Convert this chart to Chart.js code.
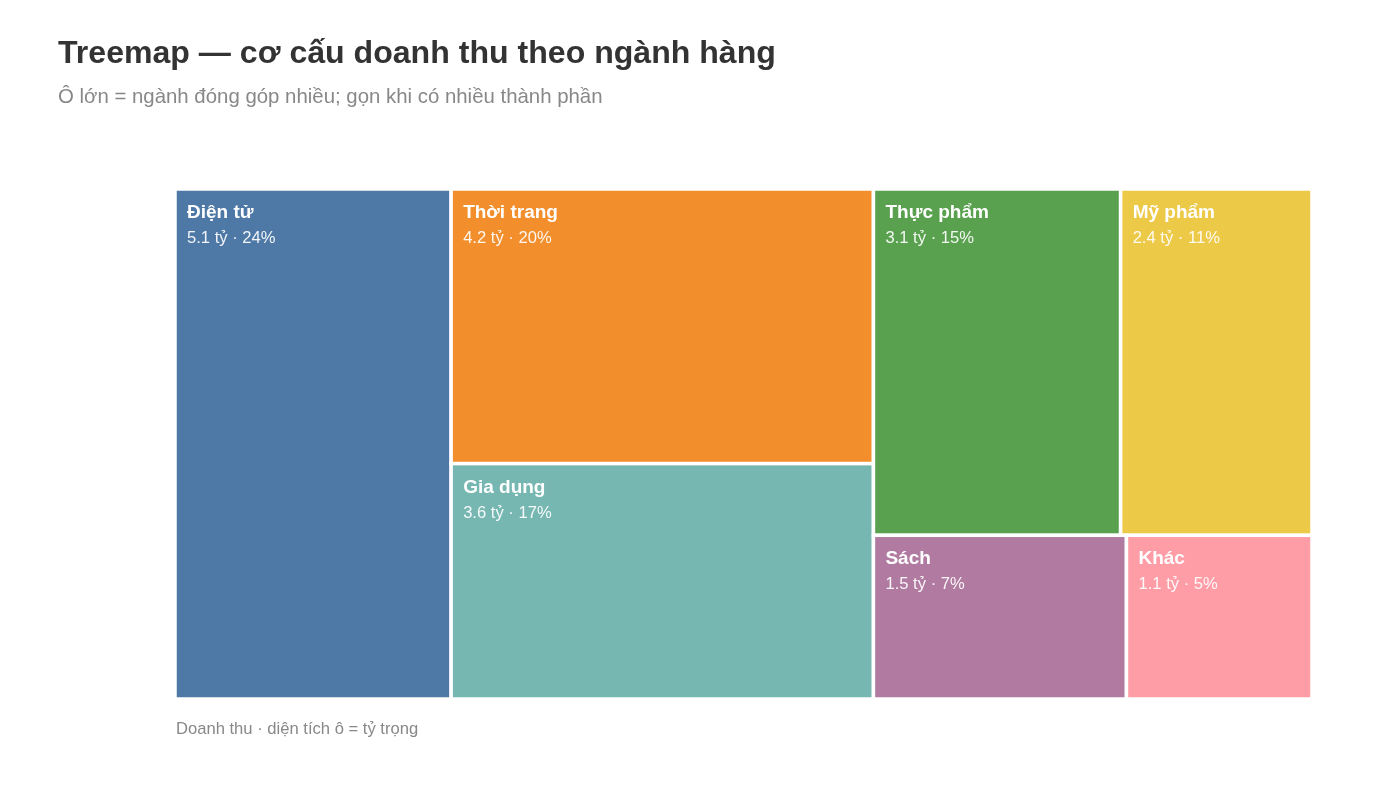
<!DOCTYPE html>
<html lang="vi">
<head>
<meta charset="utf-8">
<title>Treemap — cơ cấu doanh thu theo ngành hàng</title>
<script src="https://cdn.jsdelivr.net/npm/chart.js@4.4.1/dist/chart.umd.min.js"></script>
<style>
  html, body { margin: 0; padding: 0; background: #fff; }
  body { font-family: "Liberation Sans", Arial, sans-serif; }
  #wrap { position: relative; width: 1400px; height: 787px; }
  #chart { position: absolute; left: 0; top: 0; }
  .title { position: absolute; left: 58px; top: 34px; font-size: 32.1px; font-weight: bold; color: #333; white-space: nowrap; }
  .subtitle { position: absolute; left: 58px; top: 85px; font-size: 20.4px; color: #888; white-space: nowrap; }
  .note { position: absolute; left: 176px; top: 719px; font-size: 16.6px; color: #888; white-space: nowrap; }
</style>
</head>
<body>
<div id="wrap">
  <canvas id="chart" width="1400" height="787"></canvas>
  <div class="title">Treemap — cơ cấu doanh thu theo ngành hàng</div>
  <div class="subtitle">Ô lớn = ngành đóng góp nhiều; gọn khi có nhiều thành phần</div>
  <div class="note">Doanh thu · diện tích ô = tỷ trọng</div>
</div>
<script>
// revenue by category, in billion VND (tỷ)
const categories = ['Điện tử', 'Thời trang', 'Gia dụng', 'Thực phẩm', 'Mỹ phẩm', 'Sách', 'Khác'];
const revenue = [5.1, 4.2, 3.6, 3.1, 2.4, 1.5, 1.1];
const colors = ['#4e79a7', '#f28e2b', '#76b7b2', '#59a14f', '#edc948', '#b07aa1', '#ff9da7'];

// worst aspect ratio of a row of areas laid along a side
function worst(row, side) {
    const s = row.reduce((a, b) => a + b, 0);
    let w = 0;
    row.forEach(r => {
        w = Math.max(w, (side * side * r) / (s * s), (s * s) / (side * side * r));
    });
    return w;
}

// squarified treemap, returns rects in the same units as w/h
function squarify(values, w, h) {
    const total = values.reduce((a, b) => a + b, 0);
    const areas = values.map(v => v / total * w * h);
    const rects = [];
    let x = 0, y = 0, i = 0;
    while (i < areas.length) {
        const side = Math.min(w, h);
        let row = [areas[i]];
        let j = i + 1;
        while (j < areas.length && worst(row.concat(areas[j]), side) <= worst(row, side)) {
            row.push(areas[j]);
            j++;
        }
        const s = row.reduce((a, b) => a + b, 0);
        if (w >= h) {
            // column on the left
            const cw = s / h;
            let cy = y;
            row.forEach(r => { rects.push({ x: x, y: cy, w: cw, h: r / cw }); cy += r / cw; });
            x += cw; w -= cw;
        } else {
            // row across the top
            const rh = s / w;
            let cx = x;
            row.forEach(r => { rects.push({ x: cx, y: y, w: r / rh, h: rh }); cx += r / rh; });
            y += rh; h -= rh;
        }
        i = j;
    }
    return rects;
}

const treemapPlugin = {
    id: 'treemap',
    afterDatasetsDraw(chart) {
        const { ctx, chartArea, scales } = chart;
        const W = chartArea.width, H = chartArea.height;
        const total = revenue.reduce((a, b) => a + b, 0);
        const rects = squarify(revenue, W, H);
        ctx.save();
        rects.forEach((r, k) => {
            // back to 0..1 scale units, then through the scales
            const x0 = scales.x.getPixelForValue(r.x / W);
            const x1 = scales.x.getPixelForValue((r.x + r.w) / W);
            const y0 = scales.y.getPixelForValue(r.y / H);
            const y1 = scales.y.getPixelForValue((r.y + r.h) / H);
            ctx.fillStyle = colors[k];
            ctx.fillRect(x0, y0, x1 - x0, y1 - y0);
            ctx.strokeStyle = '#ffffff';
            ctx.lineWidth = 3.5;
            ctx.strokeRect(x0, y0, x1 - x0, y1 - y0);

            const pct = Math.round(revenue[k] / total * 100);
            ctx.fillStyle = '#ffffff';
            ctx.textBaseline = 'alphabetic';
            ctx.textAlign = 'left';
            ctx.font = 'bold 19px "Liberation Sans", Arial, sans-serif';
            ctx.fillText(categories[k], x0 + 12, y0 + 29);
            ctx.fillStyle = 'rgba(255,255,255,0.92)';
            ctx.font = '16.6px "Liberation Sans", Arial, sans-serif';
            ctx.fillText(revenue[k].toFixed(1) + ' tỷ · ' + pct + '%', x0 + 12, y0 + 54);
        });
        ctx.restore();
    }
};

new Chart(document.getElementById('chart').getContext('2d'), {
    type: 'scatter',
    data: { datasets: [{ data: [], label: 'Doanh thu' }] },
    options: {
        responsive: false,
        animation: false,
        layout: { padding: { left: 175, right: 88, top: 189, bottom: 88 } },
        scales: {
            x: { type: 'linear', min: 0, max: 1, display: false },
            y: { type: 'linear', min: 0, max: 1, reverse: true, display: false }
        },
        plugins: { legend: { display: false }, tooltip: { enabled: false } }
    },
    plugins: [treemapPlugin]
});
</script>
</body>
</html>
